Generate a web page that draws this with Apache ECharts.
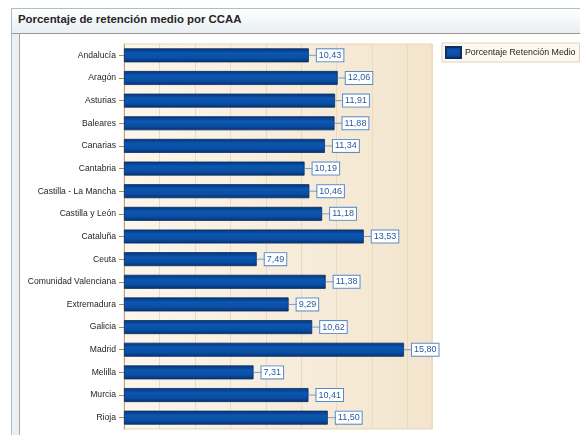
<!DOCTYPE html>
<html>
<head>
<meta charset="utf-8">
<script src="https://cdn.jsdelivr.net/npm/echarts@6/dist/echarts.min.js"></script>
<style>
html,body{margin:0;padding:0;background:#fff;}
#wrap{position:relative;width:580px;height:435px;overflow:hidden;background:#fff;}
#panel{position:absolute;left:11px;top:8px;width:600px;height:460px;border:1px solid #a9c0c8;background:#eaf1f3;}
#titlebar{position:absolute;left:12px;top:9px;width:600px;height:24px;background:linear-gradient(#ffffff,#e9eff2);border-bottom:1px solid #9d948b;}
#title{position:absolute;left:18px;top:11px;font-family:"Liberation Sans",Arial,sans-serif;font-weight:bold;font-size:11.4px;color:#262626;line-height:16px;white-space:nowrap;}
#inner{position:absolute;left:19px;top:34px;width:600px;height:460px;border-left:1px solid #b3a596;background:#fff;}
#chart{position:absolute;left:0;top:0;width:580px;height:435px;}
</style>
</head>
<body>
<div id="wrap">
  <div id="panel"></div>
  <div id="titlebar"></div>
  <div id="title">Porcentaje de retención medio por CCAA</div>
  <div id="inner"></div>
  <div id="chart"></div>
</div>
<script>
const categories = ["Andalucía","Aragón","Asturias","Baleares","Canarias","Cantabria","Castilla - La Mancha","Castilla y León","Cataluña","Ceuta","Comunidad Valenciana","Extremadura","Galicia","Madrid","Melilla","Murcia","Rioja"];
const values = [10.43,12.06,11.91,11.88,11.34,10.19,10.46,11.18,13.53,7.49,11.38,9.29,10.62,15.80,7.31,10.41,11.50];
const seriesName = "Porcentaje Retención Medio";

const chart = echarts.init(document.getElementById('chart'), null, {renderer:'canvas'});
const barGradient = new echarts.graphic.LinearGradient(0,0,0,1,[
  {offset:0,color:'#06337a'},
  {offset:0.35,color:'#0c57b0'},
  {offset:0.7,color:'#0a4ea3'},
  {offset:1,color:'#063071'}
]);
const fmt = v => v.toFixed(2).replace('.', ',');
chart.setOption({
  backgroundColor:'transparent',
  animation:false,
  textStyle:{fontFamily:'"Liberation Sans", Arial, sans-serif'},
  legend:{
    left:442, top:43, orient:'vertical',
    padding:[3,4,3,3],
    itemWidth:15, itemHeight:11, itemGap:4,
    backgroundColor:'#fdf9f1', borderColor:'#e0d3bc', borderWidth:1,
    textStyle:{fontSize:8.8,color:'#222',padding:[0,0,0,-1]},
    data:[{name:seriesName,icon:'rect'}]
  },
  grid:{
    left:124, right:148, top:44, bottom:6,
    show:true, borderColor:'#e6d5b6', borderWidth:1,
    backgroundColor:{type:'linear',x:0,y:0,x2:1,y2:0,colorStops:[{offset:0,color:'#fcf6ec'},{offset:1,color:'#f3e5cd'}]}
  },
  xAxis:{
    type:'value', min:0, max:17.38, interval:2,
    axisLabel:{show:false}, axisTick:{show:false}, axisLine:{show:false},
    splitLine:{show:true,lineStyle:{color:'#eadbbf',width:1}}
  },
  yAxis:{
    type:'category', inverse:true, data:categories,
    axisLine:{show:true,lineStyle:{color:'#bda57a',width:1}},
    axisTick:{show:true,alignWithLabel:true,length:5,lineStyle:{color:'#a88e60'}},
    axisLabel:{fontSize:8.6,color:'#1e1e1e',margin:8},
    splitLine:{show:false}
  },
  series:[
    {
      name:seriesName, type:'bar', data:values, barWidth:14,
      itemStyle:{color:barGradient,borderColor:'#082f68',borderWidth:0.8},
      label:{
        show:true, position:'right', distance:8,
        formatter:p=>fmt(p.value),
        fontSize:9, color:'#2a5b9c',
        backgroundColor:'#ffffff', borderColor:'#5a8bc9', borderWidth:1,
        padding:[1,2,0,2], lineHeight:11
      },
      z:2
    },
    {
      name:'conn', type:'scatter', silent:true,
      data:values.map((v,i)=>[v,categories[i]]),
      symbol:'rect', symbolSize:[8,1], symbolOffset:[4,0],
      itemStyle:{color:'#5a8bc9'}, z:3, legendHoverLink:false
    }
  ]
});
</script>
</body>
</html>
